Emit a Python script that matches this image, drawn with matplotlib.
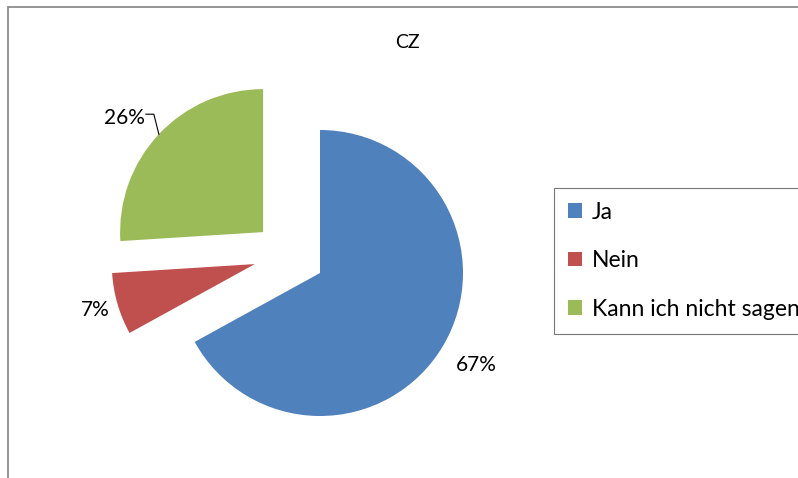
import numpy as np
import matplotlib.pyplot as plt
from matplotlib.patches import Rectangle, Patch

plt.rcParams['font.family'] = ['Lato', 'DejaVu Sans']

title = "CZ"
categories = ["Ja", "Nein", "Kann ich nicht sagen"]
shares = [67, 7, 26]
colors = ["#4F81BD", "#C0504D", "#9BBB59"]
explode = [0.0, 0.46, 0.49]
# the original pulls slices out a bit off their bisector
explode_tilt = [0, -24, 7.5]

fig = plt.figure(figsize=(7.98, 4.78), dpi=100)
ax = fig.add_axes([0, 0, 1, 1])

wedges, _ = ax.pie(shares, colors=colors, startangle=90,
                   counterclock=False, radius=1.0,
                   wedgeprops=dict(linewidth=0))

for w, e, t in zip(wedges, explode, explode_tilt):
    th = np.deg2rad((w.theta1 + w.theta2) / 2 + t)
    w.set_center((e * np.cos(th), e * np.sin(th)))

# pie centre sits at (320, 273) px, radius 143 px
R = 143.0
ax.set_xlim(-320 / R, (798 - 320) / R)
ax.set_ylim(-(478 - 273) / R, 273 / R)
ax.set_aspect('equal')
ax.axis('off')

# data labels outside each slice
label_dist = [1.27, 1.16, 1.26]
for w, v, d in zip(wedges, shares, label_dist):
    cx, cy = w.center
    th = np.deg2rad((w.theta1 + w.theta2) / 2)
    txt = f"{v}%"
    if v == 26:
        # leader line like the original
        px, py = cx + np.cos(th), cy + np.sin(th)
        ex, ey = px - 0.035, py + 0.14
        lx = ex - 0.056
        ax.plot([px, ex, lx], [py, ey, ey], color="black", lw=0.8)
        ax.text(lx - 0.01, ey - 0.03, txt, ha='right', va='center', fontsize=15)
    else:
        ax.text(cx + d * np.cos(th), cy + d * np.sin(th), txt,
                ha='center', va='center', fontsize=15)

fig.text(407 / 798, 1 - 42 / 478, title, ha='center', va='center', fontsize=14)

handles = [Patch(facecolor=c, edgecolor='none') for c in colors]
leg = fig.legend(handles, categories, loc='upper left',
                 bbox_to_anchor=(554 / 798, 1 - 188 / 478),
                 fontsize=16.5, frameon=True, fancybox=False,
                 handlelength=0.6, handleheight=0.6, handletextpad=0.45,
                 labelspacing=1.2, borderpad=0.6, borderaxespad=0)
leg.get_frame().set_edgecolor("#555555")
leg.get_frame().set_linewidth(0.8)

# chart area border
fig.patches.append(Rectangle((8 / 798, -0.2), 1.5, 1.2 - 7 / 478,
                             transform=fig.transFigure, fill=False,
                             edgecolor="#8c8c8c", lw=1.3))

fig.savefig("out.png", dpi=100)
